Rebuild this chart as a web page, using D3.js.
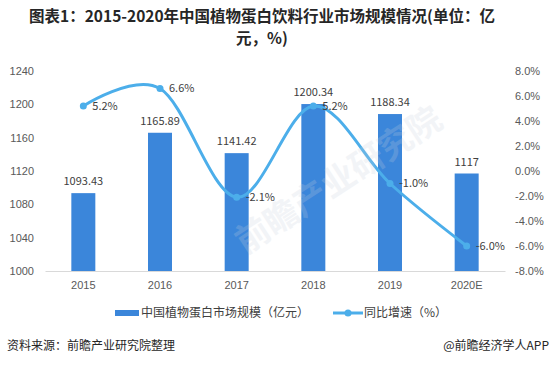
<!DOCTYPE html>
<html>
<head>
<meta charset="utf-8">
<script src="https://cdn.jsdelivr.net/npm/d3@7"></script>
<style>
body { margin: 0; background: #fff; }
svg { display: block; font-family: "Noto Sans CJK SC", "Noto Sans", sans-serif; }
.axis text { fill: #595959; font-size: 11px; }
.lbl { fill: #404040; font-size: 11px; }
</style>
</head>
<body>
<div id="chart"></div>
<script>
// data
const years = ['2015', '2016', '2017', '2018', '2019', '2020E']
const marketSize = [1093.43, 1165.89, 1141.42, 1200.34, 1188.34, 1117]
const growth = [5.2, 6.6, -2.1, 5.2, -1.0, -6.0]
const leftTicks = [1000, 1040, 1080, 1120, 1160, 1200, 1240]
const rightTicks = [-8, -6, -4, -2, 0, 2, 4, 6, 8]

const width = 556, height = 365
const margin = {left: 45, right: 51, top: 71, bottom: 94}

const barColor = '#3b86da'
const lineColor = '#4caeea'

const svg = d3.select('#chart')
.append('svg')
.attr('width', width)
.attr('height', height)

svg.append('rect').attr('width', width).attr('height', height).attr('fill', '#fff')

// title, two lines like the original
svg.append('text')
.attr('x', 262).attr('y', 22)
.attr('text-anchor', 'middle')
.attr('font-size', 15.5).attr('font-weight', 'bold').attr('fill', '#262626')
.text('图表1：2015-2020年中国植物蛋白饮料行业市场规模情况(单位：亿')
svg.append('text')
.attr('x', 262).attr('y', 44)
.attr('text-anchor', 'middle')
.attr('font-size', 15.5).attr('font-weight', 'bold').attr('fill', '#262626')
.text('元，%)')

const xScale = d3.scaleBand()
.domain(years)
.range([margin.left, width - margin.right])
.paddingInner(0.687)
.paddingOuter(0.3435)

const yLeft = d3.scaleLinear()
.domain([1000, 1240])
.range([height - margin.bottom, margin.top])

const yRight = d3.scaleLinear()
.domain([-8, 8])
.range([height - margin.bottom, margin.top])

const cx = d => xScale(d) + xScale.bandwidth() / 2

// bars
svg.selectAll('rect.bar')
.data(years)
.enter()
.append('rect')
.attr('class', 'bar')
.attr('x', d => xScale(d))
.attr('width', xScale.bandwidth())
.attr('y', (d, i) => yLeft(marketSize[i]))
.attr('height', (d, i) => yLeft(1000) - yLeft(marketSize[i]))
.attr('fill', barColor)

svg.selectAll('text.barlbl')
.data(years)
.enter()
.append('text')
.attr('class', 'lbl barlbl')
.attr('x', d => cx(d))
.attr('y', (d, i) => yLeft(marketSize[i]) - 8)
.attr('text-anchor', 'middle')
.text((d, i) => marketSize[i])

// axes
const xAxis = svg.append('g')
.attr('class', 'axis')
.attr('transform', `translate(0,${height - margin.bottom})`)
.call(d3.axisBottom(xScale).tickSize(0).tickPadding(10))
xAxis.select('.domain').attr('stroke', '#d9d9d9')

const leftAxis = svg.append('g')
.attr('class', 'axis')
.attr('transform', `translate(${margin.left},0)`)
.call(d3.axisLeft(yLeft).tickValues(leftTicks).tickSize(0).tickPadding(11)
	.tickFormat(d3.format('d')))
leftAxis.select('.domain').remove()

const rightAxis = svg.append('g')
.attr('class', 'axis')
.attr('transform', `translate(${width - margin.right},0)`)
.call(d3.axisRight(yRight).tickValues(rightTicks).tickSize(0).tickPadding(10)
	.tickFormat(d => d.toFixed(1) + '%'))
rightAxis.select('.domain').remove()

// growth line, smoothed like excel
const line = d3.line()
.curve(d3.curveCardinal.tension(0))
.x((d, i) => cx(years[i]))
.y(d => yRight(d))

svg.append('path')
.attr('d', line(growth))
.attr('fill', 'none')
.attr('stroke', lineColor)
.attr('stroke-width', 3)

svg.selectAll('circle.pt')
.data(growth)
.enter()
.append('circle')
.attr('class', 'pt')
.attr('cx', (d, i) => cx(years[i]))
.attr('cy', d => yRight(d))
.attr('r', 3.5)
.attr('fill', lineColor)

svg.selectAll('text.ptlbl')
.data(growth)
.enter()
.append('text')
.attr('class', 'lbl ptlbl')
.attr('x', (d, i) => cx(years[i]) + 9)
.attr('y', d => yRight(d))
.attr('dy', '0.35em')
.text(d => d.toFixed(1) + '%')

// faint watermark over the plot
svg.append('text')
.attr('transform', 'translate(345,190) rotate(-33)')
.attr('text-anchor', 'middle')
.attr('font-size', 34).attr('font-weight', 'bold')
.attr('fill', '#c8d0dc').attr('opacity', 0.22)
.text('前瞻产业研究院')

// legend
const legend = svg.append('g').attr('font-size', 12).attr('fill', '#404040')
legend.append('rect')
.attr('x', 115).attr('y', 310).attr('width', 24).attr('height', 6)
.attr('fill', barColor)
legend.append('text')
.attr('x', 141).attr('y', 313).attr('dy', '0.35em')
.text('中国植物蛋白市场规模（亿元）')
legend.append('line')
.attr('x1', 333).attr('x2', 363).attr('y1', 313).attr('y2', 313)
.attr('stroke', lineColor).attr('stroke-width', 3)
legend.append('circle')
.attr('cx', 348).attr('cy', 313).attr('r', 3.5)
.attr('fill', lineColor)
legend.append('text')
.attr('x', 364).attr('y', 313).attr('dy', '0.35em')
.text('同比增速（%）')

// footer
svg.append('text')
.attr('x', 7).attr('y', 346).attr('dy', '0.35em')
.attr('font-size', 12).attr('fill', '#262626')
.text('资料来源：前瞻产业研究院整理')
svg.append('text')
.attr('x', 549).attr('y', 346).attr('dy', '0.35em')
.attr('text-anchor', 'end')
.attr('font-size', 12).attr('fill', '#262626')
.text('@前瞻经济学人APP')
</script>
</body>
</html>
